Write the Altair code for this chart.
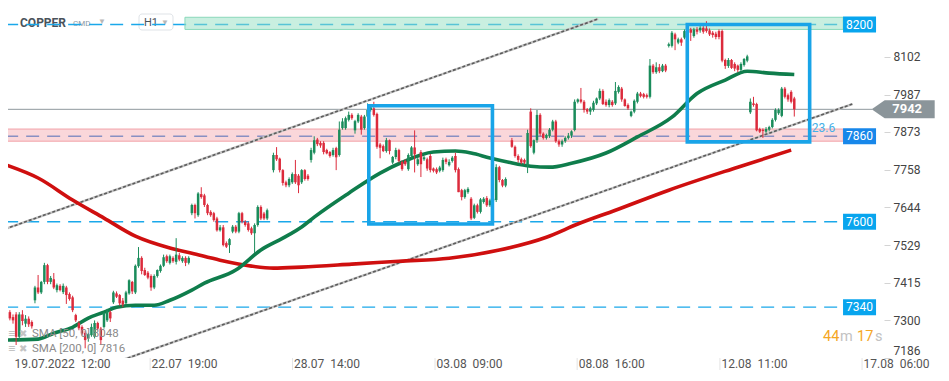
import altair as alt
import pandas as pd

# ---------------- data ----------------
# candle segments: first bar index and number of bars in each run of candles
SEG_START = [1, 10, 35, 60, 86, 98, 149, 162, 212, 238]
SEG_LEN = [9, 25, 25, 25, 12, 51, 12, 50, 26, 15]

OPEN = [
    7316, 7325, 7310, 7318, 7250, 7318, 7290, 7305, 7295,
    7361, 7400, 7385, 7417, 7468, 7417, 7425, 7392, 7405, 7386, 7400, 7380, 7370, 7316, 7292, 7280, 7262, 7245, 7255, 7250, 7292, 7275, 7280, 7300, 7325,
    7355, 7382, 7377, 7360, 7352, 7382, 7417, 7385, 7465, 7490, 7453, 7445, 7435, 7400, 7435, 7450, 7466, 7495, 7475, 7490, 7478, 7498, 7480, 7490, 7475,
    7626, 7651, 7620, 7684, 7680, 7651, 7630, 7626, 7610, 7574, 7583, 7535, 7529, 7570, 7585, 7570, 7626, 7600, 7595, 7580, 7565, 7590, 7645, 7625, 7610,
    7757, 7803, 7792, 7757, 7720, 7711, 7720, 7745, 7740, 7720, 7757, 7740,
    7788, 7810, 7850, 7840, 7840, 7818, 7812, 7803, 7824, 7803, 7885, 7885, 7910, 7925, 7878, 7905, 7920, 7885, 7920, 7940, 7945, 7928, 7835, 7830, 7815, 7848, 7780, 7797, 7818, 7782, 7785, 7760, 7800, 7826, 7775, 7812, 7790, 7790, 7800, 7762, 7760, 7755, 7757, 7790, 7772, 7785, 7800, 7760, 7696, 7675, 7690,
    7670, 7612, 7650, 7630, 7660, 7672, 7650, 7665, 7666, 7766, 7727, 7710,
    7848, 7828, 7800, 7790, 7788, 7772, 7935, 7810, 7848, 7925, 7868, 7855, 7860, 7880, 7905, 7845, 7835, 7845, 7855, 7862, 7879, 7965, 7972, 7965, 7942, 7935, 7940, 7960, 7975, 7998, 7965, 7955, 7965, 7960, 7995, 8005, 7972, 7955, 7922, 7935, 7965, 7990, 7988, 7985, 7980, 8075, 8055, 8070, 8058, 8075,
    8135, 8135, 8170, 8145, 8155, 8160, 8172, 8185, 8165, 8185, 8182, 8190, 8188, 8182, 8175, 8172, 8180, 8180, 8092, 8074, 8092, 8080, 8075, 8062, 8077, 8090,
    7933, 7960, 7958, 7882, 7880, 7874, 7880, 7888, 7910, 7930, 7922, 8005, 7985, 7995, 7975,
]
HIGH = [
    7331, 7331, 7318, 7325, 7325, 7331, 7316, 7312, 7300,
    7405, 7438, 7420, 7475, 7472, 7435, 7444, 7412, 7410, 7412, 7405, 7385, 7375, 7320, 7298, 7285, 7268, 7262, 7290, 7300, 7296, 7280, 7325, 7335, 7330,
    7390, 7388, 7380, 7368, 7390, 7425, 7420, 7470, 7523, 7495, 7460, 7450, 7440, 7440, 7455, 7470, 7500, 7500, 7500, 7495, 7550, 7505, 7495, 7495, 7495,
    7655, 7655, 7690, 7705, 7685, 7655, 7635, 7630, 7615, 7590, 7590, 7540, 7550, 7590, 7590, 7630, 7630, 7605, 7600, 7585, 7595, 7650, 7650, 7630, 7640,
    7810, 7827, 7795, 7760, 7725, 7735, 7750, 7788, 7745, 7760, 7760, 7745,
    7825, 7860, 7855, 7845, 7845, 7822, 7815, 7825, 7828, 7905, 7915, 7920, 7935, 7930, 7910, 7930, 7925, 7925, 7960, 7955, 7965, 7932, 7840, 7835, 7855, 7850, 7800, 7825, 7822, 7786, 7790, 7808, 7830, 7878, 7795, 7818, 7800, 7795, 7806, 7765, 7765, 7770, 7795, 7795, 7790, 7800, 7810, 7765, 7700, 7700, 7705,
    7675, 7655, 7655, 7672, 7675, 7678, 7670, 7675, 7775, 7770, 7730, 7735,
    7855, 7832, 7805, 7795, 7792, 7880, 7945, 7850, 7940, 7930, 7872, 7868, 7885, 7910, 7910, 7850, 7850, 7860, 7870, 7878, 7972, 7975, 8007, 7970, 7946, 7950, 7968, 7978, 8005, 8003, 7972, 7975, 7970, 8025, 8015, 8010, 7975, 7960, 7938, 7972, 7995, 7995, 7992, 7990, 8095, 8080, 8085, 8080, 8080, 8080,
    8145, 8180, 8175, 8160, 8160, 8185, 8185, 8190, 8190, 8192, 8195, 8195, 8210, 8188, 8180, 8178, 8185, 8185, 8096, 8098, 8095, 8085, 8078, 8085, 8098, 8108,
    7975, 7980, 7962, 7886, 7884, 7888, 7892, 7915, 7945, 7945, 8010, 8010, 7990, 8000, 7980,
]
LOW = [
    7306, 7300, 7290, 7225, 7240, 7285, 7280, 7280, 7275,
    7352, 7380, 7380, 7410, 7410, 7410, 7395, 7385, 7388, 7380, 7350, 7360, 7325, 7295, 7270, 7255, 7215, 7235, 7250, 7245, 7270, 7225, 7275, 7295, 7295,
    7350, 7368, 7345, 7340, 7348, 7378, 7380, 7380, 7460, 7440, 7435, 7425, 7390, 7395, 7430, 7445, 7462, 7475, 7470, 7475, 7470, 7480, 7475, 7465, 7470,
    7620, 7610, 7615, 7670, 7645, 7620, 7615, 7600, 7570, 7570, 7525, 7520, 7505, 7565, 7565, 7565, 7595, 7585, 7570, 7560, 7505, 7585, 7605, 7605, 7605,
    7750, 7785, 7750, 7710, 7705, 7705, 7715, 7715, 7687, 7715, 7725, 7725,
    7780, 7805, 7830, 7825, 7805, 7805, 7795, 7798, 7757, 7798, 7880, 7880, 7905, 7910, 7868, 7900, 7865, 7880, 7915, 7935, 7920, 7822, 7793, 7812, 7810, 7805, 7775, 7790, 7780, 7755, 7770, 7755, 7795, 7750, 7770, 7736, 7785, 7755, 7750, 7750, 7745, 7750, 7752, 7775, 7768, 7780, 7750, 7690, 7665, 7670, 7685,
    7605, 7608, 7625, 7625, 7655, 7645, 7645, 7655, 7660, 7720, 7705, 7705,
    7825, 7795, 7780, 7775, 7775, 7748, 7825, 7805, 7840, 7860, 7850, 7850, 7855, 7875, 7840, 7828, 7828, 7840, 7850, 7855, 7875, 7960, 7960, 7932, 7928, 7925, 7935, 7955, 7970, 7955, 7950, 7948, 7950, 7955, 7990, 7965, 7950, 7940, 7918, 7930, 7960, 7978, 7975, 7975, 7975, 8050, 8050, 8052, 8055, 8055,
    8130, 8130, 8122, 8140, 8135, 8155, 8168, 8150, 8160, 8170, 8175, 8172, 8175, 8165, 8160, 8155, 8155, 8085, 8065, 8068, 8065, 8058, 8055, 8058, 8072, 8085,
    7928, 7950, 7875, 7870, 7855, 7870, 7875, 7884, 7905, 7925, 7918, 7975, 7965, 7960, 7920,
]
CLOSE = [
    7325, 7306, 7300, 7250, 7318, 7298, 7305, 7288, 7282,
    7400, 7385, 7417, 7468, 7417, 7429, 7400, 7407, 7392, 7405, 7377, 7365, 7331, 7300, 7276, 7260, 7240, 7258, 7280, 7292, 7275, 7240, 7322, 7328, 7306,
    7385, 7372, 7352, 7348, 7385, 7422, 7388, 7466, 7490, 7450, 7438, 7430, 7400, 7435, 7453, 7466, 7492, 7480, 7495, 7480, 7500, 7485, 7490, 7475, 7490,
    7651, 7626, 7686, 7675, 7651, 7626, 7620, 7605, 7574, 7583, 7529, 7524, 7547, 7585, 7570, 7626, 7600, 7590, 7575, 7565, 7590, 7645, 7610, 7610, 7635,
    7803, 7790, 7757, 7718, 7711, 7730, 7745, 7720, 7711, 7757, 7730, 7730,
    7818, 7848, 7836, 7832, 7812, 7808, 7800, 7818, 7796, 7880, 7905, 7915, 7925, 7915, 7906, 7925, 7880, 7920, 7940, 7948, 7925, 7828, 7825, 7815, 7848, 7815, 7797, 7818, 7785, 7760, 7775, 7803, 7826, 7805, 7790, 7775, 7796, 7762, 7757, 7755, 7750, 7765, 7788, 7782, 7782, 7795, 7757, 7690, 7675, 7696, 7700,
    7610, 7650, 7630, 7668, 7670, 7650, 7665, 7670, 7766, 7727, 7710, 7730,
    7828, 7800, 7788, 7780, 7780, 7870, 7830, 7848, 7925, 7868, 7855, 7864, 7880, 7905, 7845, 7835, 7845, 7855, 7862, 7875, 7965, 7972, 7965, 7940, 7935, 7945, 7962, 7975, 7998, 7958, 7955, 7970, 7955, 7998, 8010, 7972, 7952, 7945, 7935, 7968, 7990, 7982, 7980, 7980, 8075, 8055, 8070, 8058, 8075, 8060,
    8140, 8175, 8155, 8155, 8145, 8180, 8182, 8175, 8185, 8178, 8190, 8178, 8180, 8170, 8168, 8162, 8162, 8090, 8074, 8092, 8068, 8066, 8062, 8080, 8095, 8103,
    7965, 7955, 7878, 7874, 7876, 7882, 7888, 7910, 7940, 7940, 8005, 7980, 7972, 7965, 7942,
]

# moving averages (read points along each curve)
SMA50_BAR = [1, 11, 16, 22, 27, 32, 36, 42, 48, 53, 60, 64, 74, 82, 89, 95, 99, 110, 120, 127, 137, 144, 149, 155, 161, 168, 174, 181, 192, 202, 213, 221, 230, 237, 244, 252]
SMA50_VAL = [7240, 7243, 7261, 7279, 7307, 7325, 7340, 7346, 7346, 7361, 7392, 7413, 7453, 7514, 7550, 7584, 7614, 7687, 7748, 7781, 7812, 7815, 7809, 7794, 7781, 7769, 7766, 7778, 7809, 7858, 7918, 7990, 8031, 8058, 8052, 8048]
SMA200_BAR = [1, 11, 22, 32, 42, 53, 60, 69, 79, 86, 95, 111, 126, 142, 158, 173, 183, 195, 212, 234, 251]
SMA200_VAL = [7772, 7733, 7666, 7611, 7556, 7520, 7504, 7483, 7465, 7459, 7462, 7471, 7480, 7489, 7514, 7553, 7593, 7635, 7696, 7766, 7818]

# trend channel end points
UPPER_BAR = [0.5, 189.5]
UPPER_VAL = [7578, 8217]
LOWER_BAR = [35, 270.5]
LOWER_VAL = [7170, 7958]

# horizontal levels and zones
LEVELS_BLUE = [8200, 7600, 7340]
LEVEL_MID = [7860]
LEVEL_X = [0.5, 267.6]
PRICE_NOW = 7942
PRICE_LINE_X = [0.5, 276.8]
GREEN_ZONE = [57.8, 267.6, 8185, 8222]
PINK_ZONE = [0.5, 267.6, 7845, 7882]

# rectangles drawn on the chart
BOX_BAR0 = [116.4, 217.9]
BOX_BAR1 = [155.8, 256.9]
BOX_TOP = [7953, 8200]
BOX_BOTTOM = [7593, 7843]

# axis
Y_TICKS = [7186, 7300, 7415, 7529, 7644, 7758, 7873, 7987, 8102]
XLAB_BAR = [3, 46.7, 92.1, 137.5, 182.8, 228.3, 273.6]
XLAB_TEXT = ["19.07.2022\u00a0\u00a012:00", "22.07\u00a0\u00a019:00", "28.07\u00a0\u00a014:00",
             "03.08\u00a0\u00a009:00", "08.08\u00a0\u00a016:00", "12.08\u00a0\u00a011:00", "17.08\u00a0\u00a006:00"]
TAG_BAR = 272.8
NOW_TAG_BAR = 286.7
FIB_BAR = 261.3
FIB_VAL = 7884

# ---------------- build ----------------
bars = []
for s, n in zip(SEG_START, SEG_LEN):
    bars.extend(range(s, s + n))
if not (len(bars) == len(OPEN) == len(HIGH) == len(LOW) == len(CLOSE)):
    raise ValueError(f"length mismatch {len(bars)} {len(OPEN)} {len(HIGH)} {len(LOW)} {len(CLOSE)}")

candles = pd.DataFrame({"bar": bars, "open": OPEN, "high": HIGH, "low": LOW, "close": CLOSE})

GREEN = "#1a8c5b"
RED = "#dc2b3c"
FONT = "Roboto"

XS = alt.Scale(domain=[3, 279], nice=False, zero=False)
YS = alt.Scale(domain=[7185.5, 8250.2], nice=False, zero=False)
YAX = alt.Axis(orient="right", values=Y_TICKS, title=None, domain=False, grid=False,
               tickSize=6, tickColor="#d4d4d4", labelFont=FONT, labelFontSize=12,
               labelColor="#444444", labelPadding=3, labelFlush=True, format="d")


def X(f):
    return alt.X(f, type="quantitative", scale=XS, axis=None)


def Y(f):
    return alt.Y(f, type="quantitative", scale=YS, axis=YAX)


ONE = pd.DataFrame({"k": [0]})


def txt(t, x, y, size=12, color="#444444", align="left", weight="normal", baseline="middle"):
    return alt.Chart(ONE).mark_text(text=t, fontSize=size, color=color, align=align,
                                    fontWeight=weight, font=FONT, baseline=baseline).encode(
        x=alt.value(x), y=alt.value(y))


updown = alt.condition("datum.close >= datum.open", alt.value(GREEN), alt.value(RED))

# header
h1_box = alt.Chart(ONE).mark_rect(cornerRadius=3, fill="white", stroke="#dfe3e7", strokeWidth=1).encode(
    x=alt.value(131), x2=alt.value(165), y=alt.value(6), y2=alt.value(22))
header = [
    txt("COPPER", 12, 15, size=12, color="#4a525a", weight="bold"),
    txt("CMD", 65, 16, size=8, color="#8e9aa6"),
    txt("\u25bc", 90, 14, size=8, color="#b8b8b8"),
    h1_box,
    txt("H1", 136, 15, size=11, color="#4a525a"),
    txt("\u25bc", 153, 15, size=8, color="#b8b8b8"),
]

lv_df = pd.DataFrame({"v": LEVELS_BLUE, "x0": LEVEL_X[0], "x1": LEVEL_X[1]})
levels = alt.Chart(lv_df).mark_rule(strokeDash=[13, 8], strokeWidth=1.3, color="#1aa8ea", clip=True).encode(
    x=X("x0"), x2="x1", y=Y("v"))
lv2_df = pd.DataFrame({"v": LEVEL_MID, "x0": LEVEL_X[0], "x1": LEVEL_X[1]})
level_mid = alt.Chart(lv2_df).mark_rule(strokeDash=[13, 8], strokeWidth=1.3, color="#3b86d8", clip=True).encode(
    x=X("x0"), x2="x1", y=Y("v"))
now_df = pd.DataFrame({"v": [PRICE_NOW], "x0": PRICE_LINE_X[0], "x1": PRICE_LINE_X[1]})
now_line = alt.Chart(now_df).mark_rule(strokeWidth=1, color="#8f999e", clip=False).encode(
    x=X("x0"), x2="x1", y=Y("v"))

gz = pd.DataFrame({"x0": [GREEN_ZONE[0]], "x1": [GREEN_ZONE[1]], "y0": [GREEN_ZONE[2]], "y1": [GREEN_ZONE[3]]})
green_zone = alt.Chart(gz).mark_rect(fill="#94e0c2", fillOpacity=0.5, stroke="#8ad9bb", strokeWidth=1, clip=True).encode(
    x=X("x0"), x2="x1", y=Y("y0"), y2="y1")
pz = pd.DataFrame({"x0": [PINK_ZONE[0]], "x1": [PINK_ZONE[1]], "y0": [PINK_ZONE[2]], "y1": [PINK_ZONE[3]]})
pink_zone = alt.Chart(pz).mark_rect(fill="#f4a0a7", fillOpacity=0.42, stroke="#f2a3a9", strokeWidth=1, clip=True).encode(
    x=X("x0"), x2="x1", y=Y("y0"), y2="y1")

ch_df = pd.DataFrame({"bar": UPPER_BAR + LOWER_BAR, "v": UPPER_VAL + LOWER_VAL,
                      "ln": ["u", "u", "l", "l"]})
chan_base = alt.Chart(ch_df).mark_line(strokeWidth=2.4, color="#c4c4c4", clip=True).encode(
    x=X("bar"), y=Y("v"), detail="ln:N")
chan_dash = alt.Chart(ch_df).mark_line(strokeWidth=1.6, color="#5c5c5c", strokeDash=[3, 2], clip=True).encode(
    x=X("bar"), y=Y("v"), detail="ln:N")

sma200 = alt.Chart(pd.DataFrame({"bar": SMA200_BAR, "v": SMA200_VAL})).mark_line(
    strokeWidth=3.6, color="#cf0f0f", interpolate="monotone", clip=True).encode(x=X("bar"), y=Y("v"))
sma50 = alt.Chart(pd.DataFrame({"bar": SMA50_BAR, "v": SMA50_VAL})).mark_line(
    strokeWidth=3.6, color="#0f7d4c", interpolate="monotone", clip=True).encode(x=X("bar"), y=Y("v"))

wicks = alt.Chart(candles).mark_rule(strokeWidth=1, clip=True).encode(
    x=X("bar"), y=Y("low"), y2="high", color=updown)
bodies = alt.Chart(candles).mark_bar(width=2.5, clip=True).encode(
    x=X("bar"), y=Y("open"), y2="close", color=updown)

bx = pd.DataFrame({"x0": BOX_BAR0, "x1": BOX_BAR1, "y0": BOX_BOTTOM, "y1": BOX_TOP})
boxes = alt.Chart(bx).mark_rect(fillOpacity=0, stroke="#19a4e8", strokeWidth=3.6, clip=True).encode(
    x=X("x0"), x2="x1", y=Y("y0"), y2="y1")

RECT_TAG = "M-1,-0.485L1,-0.485L1,0.485L-1,0.485Z"
tag_df = pd.DataFrame({"bar": TAG_BAR, "v": LEVELS_BLUE, "t": [str(v) for v in LEVELS_BLUE]})
tags = alt.Chart(tag_df).mark_point(shape=RECT_TAG, size=1089, filled=True, opacity=1, color="#08a5ee").encode(
    x=X("bar"), y=Y("v"))
tag_mid_df = pd.DataFrame({"bar": TAG_BAR, "v": LEVEL_MID, "t": [str(v) for v in LEVEL_MID]})
tag_mid = alt.Chart(tag_mid_df).mark_point(shape=RECT_TAG, size=1089, filled=True, opacity=1, color="#1787ea").encode(
    x=X("bar"), y=Y("v"))
tag_txt = alt.Chart(pd.concat([tag_df, tag_mid_df])).mark_text(color="white", fontSize=12, font=FONT).encode(
    x=X("bar"), y=Y("v"), text="t:N")

ARROW = "M-1,0L-0.587,-0.2857L1,-0.2857L1,0.2857L-0.587,0.2857Z"
now_df2 = pd.DataFrame({"bar": [NOW_TAG_BAR], "v": [PRICE_NOW], "t": [str(PRICE_NOW)]})
now_tag = alt.Chart(now_df2).mark_point(shape=ARROW, size=3969, filled=True, opacity=1, color="#8b959a").encode(
    x=X("bar"), y=Y("v"))
now_txt = alt.Chart(now_df2).mark_text(color="white", fontSize=13, font=FONT, fontWeight="bold", dx=4).encode(
    x=X("bar"), y=Y("v"), text="t:N")

fib = alt.Chart(pd.DataFrame({"bar": [FIB_BAR], "v": [FIB_VAL]})).mark_text(
    text="23.6", color="#45b0e8", fontSize=12, font=FONT).encode(x=X("bar"), y=Y("v"))

xl_df = pd.DataFrame({"bar": XLAB_BAR, "t": XLAB_TEXT})
xlabels = alt.Chart(xl_df).mark_text(align="left", baseline="middle", fontSize=12, font=FONT,
                                     color="#555555", dx=1.5).encode(x=X("bar"), y=alt.value(356), text="t:N")
xticks = alt.Chart(xl_df.iloc[1:]).mark_rule(color="#e4e4e4", strokeWidth=1).encode(
    x=X("bar"), y=alt.value(350), y2=alt.value(362))

timer = [
    txt("44", 815, 329, size=14.5, color="#f5a623"),
    txt("m", 832, 329, size=14.5, color="#c2c2c2"),
    txt("17", 849, 329, size=14.5, color="#f5a623"),
    txt("s", 867, 329, size=14.5, color="#c2c2c2"),
]
legend = [
    txt("\u2261", 0, 326, size=13, color="#b9b9b9"),
    txt("\u2716", 11, 326, size=10, color="#c4c4c4"),
    txt("SMA [50, 0] 8048", 24, 326, size=11.5, color="#8a8a8a"),
    txt("\u2261", 0, 341, size=13, color="#b9b9b9"),
    txt("\u2716", 11, 341, size=10, color="#c4c4c4"),
    txt("SMA [200, 0] 7816", 24, 341, size=11.5, color="#8a8a8a"),
]

layers = header + [levels, level_mid, now_line, green_zone, pink_zone, chan_base, chan_dash,
                   sma200, sma50, wicks, bodies, boxes, tags, tag_mid, tag_txt, now_tag, now_txt,
                   fib, xticks, xlabels] + timer + legend

chart = alt.layer(*layers).properties(
    width=876, height=350,
    padding={"left": 0, "top": 0, "right": 57, "bottom": 15},
    autosize=alt.AutoSizeParams(type="none"),
    background="white",
).configure_view(stroke=None)

chart.save("out.html", embed_options={"renderer": "svg", "actions": False})
